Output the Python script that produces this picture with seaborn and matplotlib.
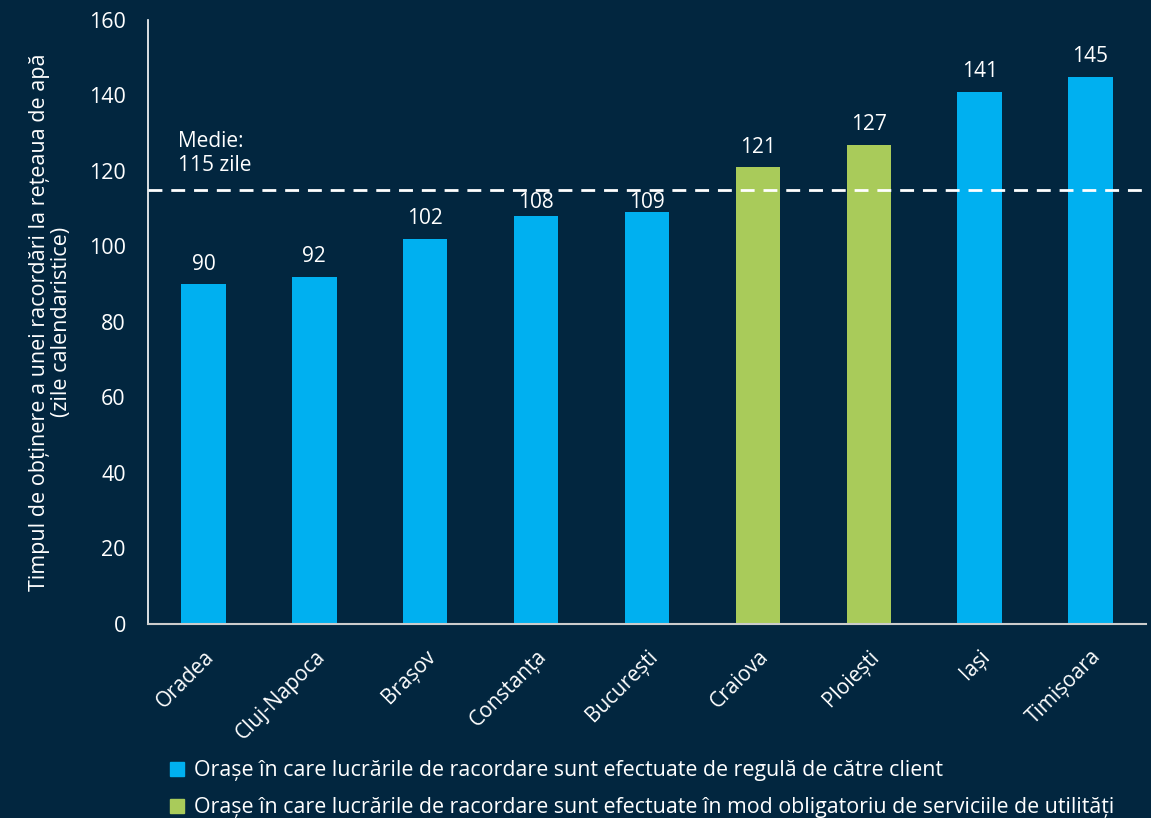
import pandas as pd
import seaborn as sns
import matplotlib.pyplot as plt
from matplotlib.lines import Line2D

# data
cities = ["Oradea", "Cluj-Napoca", "Brașov", "Constanța", "București",
          "Craiova", "Ploiești", "Iași", "Timișoara"]
days = [90, 92, 102, 108, 109, 121, 127, 141, 145]
groups = ["client", "client", "client", "client", "client",
          "utilitati", "utilitati", "client", "client"]
mean_days = 115

legend_labels = [
    "Orașe în care lucrările de racordare sunt efectuate de regulă de către client",
    "Orașe în care lucrările de racordare sunt efectuate în mod obligatoriu de serviciile de utilități",
]

bg = "#02263f"
blue = "#00b0f0"
green = "#a9cb5a"

df = pd.DataFrame({"oras": cities, "zile": days, "grup": groups})

sns.set_theme(style="dark")
plt.rcParams["font.family"] = ["Open Sans", "DejaVu Sans"]

fig = plt.figure(figsize=(11.51, 8.18), dpi=100, facecolor=bg)
ax = fig.add_axes([0.1286, 0.2372, 0.867, 0.7384])
ax.set_facecolor(bg)

sns.barplot(data=df, x="oras", y="zile", hue="grup",
            palette={"client": blue, "utilitati": green},
            dodge=False, width=0.4, saturation=1, legend=False,
            linewidth=0, ax=ax)

# value labels on top of the bars (kept below the mean line when close to it)
for i, v in enumerate(days):
    y = v + 5.3
    if v < mean_days and y > mean_days - 3.3:
        y = mean_days - 3.3
    ax.text(i, y, str(v), ha="center", va="center", color="white", fontsize=15)

# mean line
ax.axhline(mean_days, color="white", linestyle=(0, (5, 3.2)), linewidth=2)
ax.text(0.03, 0.742, "Medie:\n115 zile", transform=ax.transAxes,
        color="white", fontsize=15, ha="left", va="bottom", linespacing=1.15)

ax.set_ylim(0, 160)
ax.set_xlim(-0.5, len(cities) - 0.5)
ax.set_yticks(range(0, 161, 20))
ax.tick_params(axis="y", colors="white", labelsize=15.5, length=0, pad=16)
ax.tick_params(axis="x", colors="white", labelsize=15, length=0, pad=16)
plt.setp(ax.get_xticklabels(), rotation=45, ha="right", rotation_mode="anchor")

ax.set_xlabel("")
ax.set_ylabel("Timpul de obținere a unei racordări la rețeaua de apă\n(zile calendaristice)",
              color="white", fontsize=15.5, labelpad=12, linespacing=1.05)
ax.grid(False)

for s in ["top", "right"]:
    ax.spines[s].set_visible(False)
ax.spines["left"].set_color("white")
ax.spines["left"].set_linewidth(1.2)
ax.spines["bottom"].set_color("#cccccc")
ax.spines["bottom"].set_linewidth(1.5)

handles = [Line2D([], [], marker="s", linestyle="", markersize=9.5, color=c)
           for c in (blue, green)]
leg = fig.legend(handles, legend_labels, loc="lower left",
                 bbox_to_anchor=(0.128, -0.024), frameon=False,
                 fontsize=15.4, labelcolor="white", handletextpad=0.3,
                 labelspacing=0.75, handlelength=1.0)

fig.savefig("out.png", dpi=100, facecolor=bg)
